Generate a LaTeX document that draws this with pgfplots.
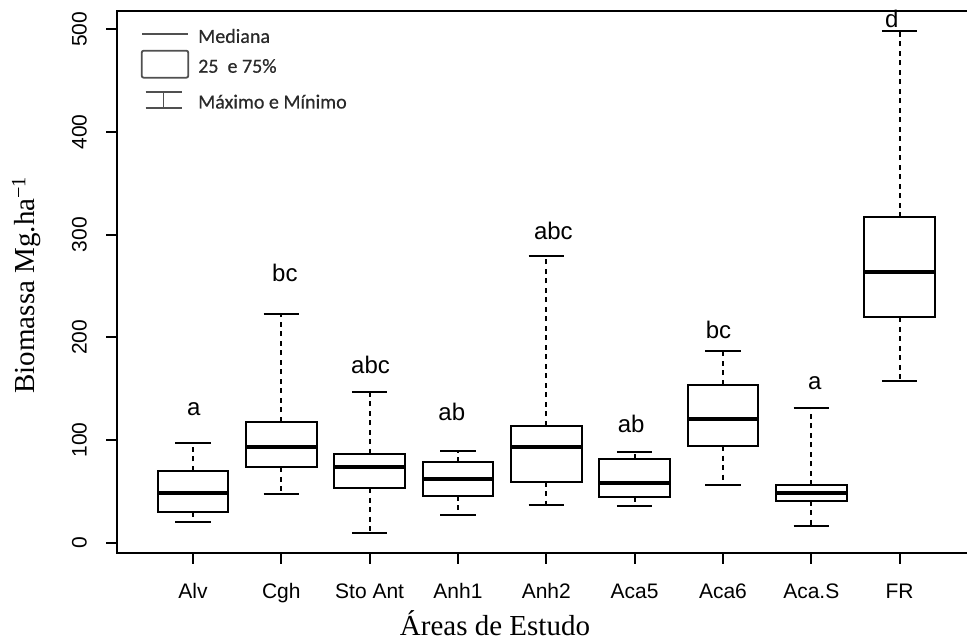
\documentclass[border=0pt]{standalone}
\usepackage{pgfplots}
\pgfplotsset{compat=1.18}
\usepgfplotslibrary{statistics}
\usepackage{fontspec}
\setmainfont{Liberation Serif}
\newfontfamily\arial{Liberation Sans}
\newfontfamily\carlito[FakeBold=0.6]{Carlito}
\definecolor{leggray}{HTML}{505050}
\definecolor{legtext}{HTML}{2A2A2A}

\pgfplotsset{
  rbox/.style={
    black, solid, line width=2pt,
    boxplot/draw direction=y,
    boxplot/box extend=0.8,
    boxplot/whisker extend=0.4,
    boxplot/every median/.style={line width=4pt},
    boxplot/draw/lower whisker/.code={
      \draw[line width=1.8pt, dash pattern=on 5pt off 4.5pt]
        (boxplot cs:\pgfplotsboxplotvalue{lower quartile}) -- (boxplot cs:\pgfplotsboxplotvalue{lower whisker});
      \draw[line width=2pt]
        (boxplot whisker cs:\pgfplotsboxplotvalue{lower whisker},0) -- (boxplot whisker cs:\pgfplotsboxplotvalue{lower whisker},1);
    },
    boxplot/draw/upper whisker/.code={
      \draw[line width=1.8pt, dash pattern=on 5pt off 4.5pt]
        (boxplot cs:\pgfplotsboxplotvalue{upper quartile}) -- (boxplot cs:\pgfplotsboxplotvalue{upper whisker});
      \draw[line width=2pt]
        (boxplot whisker cs:\pgfplotsboxplotvalue{upper whisker},0) -- (boxplot whisker cs:\pgfplotsboxplotvalue{upper whisker},1);
    },
  },
}

\begin{document}
\begin{tikzpicture}
\begin{axis}[
  at={(117pt,89.3pt)}, anchor=south west,
  scale only axis, width=858.6pt, height=541.7pt,
  xmin=0.14, xmax=9.86, ymin=-9.8, ymax=517.8,
  clip=false,
  axis line style={line width=1.8pt},
  tick style={line width=1.8pt, black},
  tick align=outside, tick pos=left, major tick length=11pt,
  xtick={1,...,9},
  xticklabels={Alv,Cgh,Sto Ant,Anh1,Anh2,Aca5,Aca6,Aca.S,FR},
  ytick={0,100,...,500},
  ticklabel style={font=\arial\fontsize{21}{21}\selectfont},
  /pgf/number format/assume math mode=true,
  yticklabel style={rotate=90, anchor=south, inner sep=0pt},
  xticklabel style={anchor=north, inner sep=0pt, text height=15pt},
  yticklabel shift=19pt,
  xticklabel shift=19.6pt,
]
\addplot[rbox, boxplot prepared={draw position=1, lower whisker=19.8, lower quartile=30.2, median=48.1, upper quartile=69.9, upper whisker=97.2}] coordinates {};
\addplot[rbox, boxplot prepared={draw position=2, lower whisker=47.5, lower quartile=73.4, median=92.9, upper quartile=117.9, upper whisker=222.2}] coordinates {};
\addplot[rbox, boxplot prepared={draw position=3, lower whisker=9.7, lower quartile=52.9, median=74.1, upper quartile=86.7, upper whisker=146.5}] coordinates {};
\addplot[rbox, boxplot prepared={draw position=4, lower whisker=27.3, lower quartile=45.8, median=62.1, upper quartile=78.3, upper whisker=89.0}] coordinates {};
\addplot[rbox, boxplot prepared={draw position=5, lower whisker=37.0, lower quartile=59.5, median=92.9, upper quartile=114.0, upper whisker=278.8}] coordinates {};
\addplot[rbox, boxplot prepared={draw position=6, lower whisker=35.8, lower quartile=44.1, median=58.5, upper quartile=81.6, upper whisker=88.7}] coordinates {};
\addplot[rbox, boxplot prepared={draw position=7, lower whisker=55.8, lower quartile=93.9, median=120.2, upper quartile=154.0, upper whisker=186.5}] coordinates {};
\addplot[rbox, boxplot prepared={draw position=8, lower whisker=16.6, lower quartile=40.6, median=48.0, upper quartile=55.8, upper whisker=131.3}] coordinates {};
\addplot[rbox, boxplot prepared={draw position=9, lower whisker=157.2, lower quartile=219.3, median=263.2, upper quartile=317.0, upper whisker=498.3}] coordinates {};

\addplot[draw=none, mark=none, nodes near coords, point meta=explicit symbolic,
  nodes near coords style={anchor=center, font=\arial\fontsize{24}{24}\selectfont, inner sep=0pt, text=black}]
  table[meta=lbl] {
x y lbl
1.01 129.8 a
2.04 263.0 bc
3.01 173.3 abc
3.93 127.0 ab
5.08 303.3 abc
5.96 115.7 ab
6.95 207.4 bc
8.04 155.8 a
8.91 509.6 d
};
\end{axis}

% axis titles
\node[rotate=90, anchor=base, font=\fontsize{29}{29}\selectfont] at (34.5pt,357pt) {Biomassa Mg.ha\textsuperscript{−1}};
\node[anchor=base, font=\fontsize{29}{29}\selectfont] at (495pt,6pt) {Áreas de Estudo};

% legend
\draw[leggray, line width=1.8pt] (142pt,607.7pt) -- (188pt,607.7pt);
\draw[leggray, line width=1.8pt, rounded corners=2pt] (141.7pt,591.3pt) rectangle (188.3pt,564.3pt);
\draw[leggray, line width=1.8pt] (145.7pt,549.7pt) -- (181.7pt,549.7pt)
  (145.7pt,533.7pt) -- (181.7pt,533.7pt) (163.5pt,549.7pt) -- (163.5pt,533.7pt);
\node[anchor=west, inner sep=0pt, text=legtext, font=\carlito\fontsize{20}{20}\selectfont] at (198pt,606pt) {Mediana};
\node[anchor=west, inner sep=0pt, text=legtext, font=\carlito\fontsize{20}{20}\selectfont] at (198pt,576pt) {25\ \ e 75\%};
\node[anchor=west, inner sep=0pt, text=legtext, font=\carlito\fontsize{20}{20}\selectfont] at (198pt,540.3pt) {Máximo e Mínimo};

\pgfresetboundingbox
\path[use as bounding box] (0pt,0pt) rectangle (967pt,642pt);
\end{tikzpicture}
\end{document}
